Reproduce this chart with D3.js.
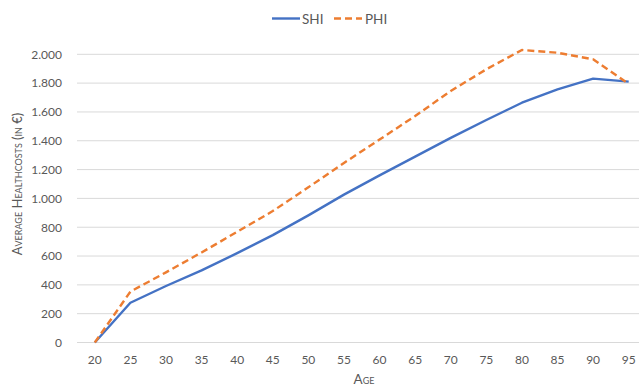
<!DOCTYPE html>
<html>
<head>
<meta charset="utf-8">
<script src="https://cdn.jsdelivr.net/npm/d3@7"></script>
<style>
  html, body { margin: 0; padding: 0; background: #fff; }
  svg { display: block; font-family: Lato, "Open Sans", sans-serif; }
</style>
</head>
<body>
<svg id="chart" width="639" height="387"></svg>
<script>
// Age groups and average health costs per insurance type (EUR)
const ages = [20, 25, 30, 35, 40, 45, 50, 55, 60, 65, 70, 75, 80, 85, 90, 95];
const shi = [0, 276, 392, 500, 620, 745, 882, 1026, 1160, 1290, 1420, 1544, 1664, 1757, 1831, 1810];
const phi = [0, 353, 487, 625, 768, 912, 1077, 1246, 1408, 1572, 1745, 1896, 2030, 2011, 1965, 1794];
const yTicks = [0, 200, 400, 600, 800, 1000, 1200, 1400, 1600, 1800, 2000];

const series = [
  { name: "SHI", values: shi, color: "#4472C4", dash: null },
  { name: "PHI", values: phi, color: "#ED7D31", dash: "7,4" }
];

const svg = d3.select("#chart");
const plot = { left: 77, right: 646.5, top: 54.3, bottom: 342.5 };

const x = d3.scaleBand().domain(ages).range([plot.left, plot.right]);
const y = d3.scaleLinear().domain([0, 2000]).range([plot.bottom, plot.top]);
const fmt = v => d3.format(",")(v).replace(/,/g, ".");

// horizontal gridlines
svg.append("g")
  .selectAll("line")
  .data(yTicks)
  .join("line")
  .attr("x1", plot.left).attr("x2", plot.right)
  .attr("y1", d => y(d)).attr("y2", d => y(d))
  .attr("stroke", "#d9d9d9").attr("stroke-width", 1);

// y axis labels
const yAxis = svg.append("g")
  .attr("transform", `translate(${plot.left},0)`)
  .call(d3.axisLeft(y).tickValues(yTicks).tickFormat(fmt).tickSize(0).tickPadding(15));
yAxis.select(".domain").remove();
yAxis.selectAll("text").attr("fill", "#595959").style("font-size", "12px")
  .style("font-family", "Lato, sans-serif");

// x axis labels
const xAxis = svg.append("g")
  .attr("transform", `translate(0,${plot.bottom})`)
  .call(d3.axisBottom(x).tickSize(0).tickPadding(13));
xAxis.select(".domain").remove();
xAxis.selectAll("text").attr("fill", "#595959").style("font-size", "12px")
  .style("font-family", "Lato, sans-serif");

// lines
const line = d3.line()
  .x((d, i) => x(ages[i]) + x.bandwidth() / 2)
  .y(d => y(d));

svg.append("g")
  .selectAll("path")
  .data(series)
  .join("path")
  .attr("d", d => line(d.values))
  .attr("fill", "none")
  .attr("stroke", d => d.color)
  .attr("stroke-width", 2.4)
  .attr("stroke-linejoin", "round")
  .attr("stroke-dasharray", d => d.dash);

// axis titles in small caps
svg.append("text")
  .attr("x", 364).attr("y", 384)
  .attr("text-anchor", "middle")
  .attr("fill", "#595959")
  .style("font-size", "13.5px")
  .style("font-variant", "small-caps")
  .text("Age");

svg.append("text")
  .attr("transform", "translate(22,184) rotate(-90)")
  .attr("text-anchor", "middle")
  .attr("fill", "#595959")
  .style("font-size", "13px")
  .style("font-variant", "small-caps")
  .text("Average Healthcosts (in €)");

// legend
const legend = svg.append("g");
const legendItems = [
  { s: series[0], x: 272, tx: 302 },
  { s: series[1], x: 334, tx: 365 }
];
legendItems.forEach(it => {
  legend.append("line")
    .attr("x1", it.x).attr("x2", it.x + 28)
    .attr("y1", 18.5).attr("y2", 18.5)
    .attr("stroke", it.s.color).attr("stroke-width", 2.4)
    .attr("stroke-dasharray", it.s.dash);
  legend.append("text")
    .attr("x", it.tx).attr("y", 23.5)
    .attr("fill", "#595959")
    .style("font-size", "13.5px")
    .text(it.s.name);
});
</script>
</body>
</html>
